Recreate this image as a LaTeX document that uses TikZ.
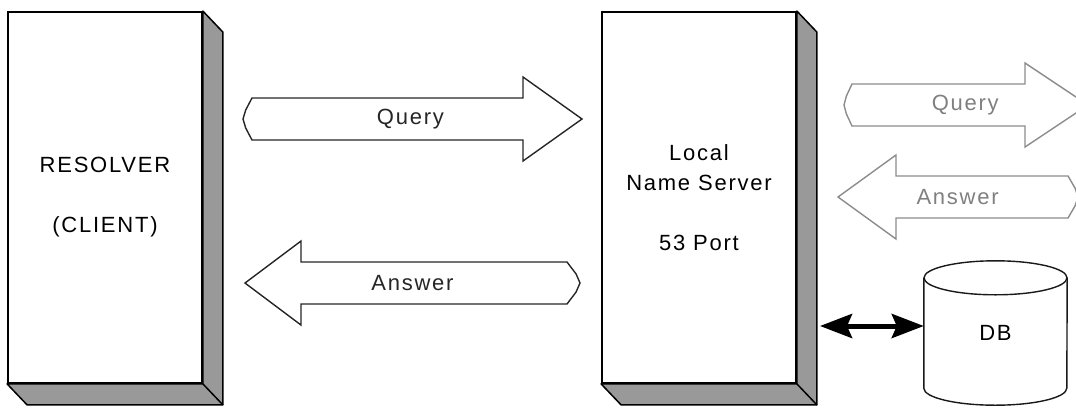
\documentclass[tikz,border=0pt]{standalone}
\usepackage{fontspec}
\setmainfont{Liberation Sans}[LetterSpace=8]
\usepackage{tikz}
\usetikzlibrary{arrows.meta}
% #2 name, #3 tail point x, #4 tail x, #5 head x, #6 tip x, #7 mid y, #8 label
\newcommand{\fatarrow}[8][]{
  \draw[#1] ({#4},{#7-21}) -- ({#5},{#7-21}) -- ({#5},{#7-42}) -- ({#6},{#7})
    -- ({#5},{#7+42}) -- ({#5},{#7+21}) -- ({#4},{#7+21})
    -- ({0.3*#4+0.7*#3},{#7+9}) -- ({#3},{#7}) -- ({0.3*#4+0.7*#3},{#7-9}) -- cycle;
  \node[#1,draw=none,fill=none] (#2) at ({0.52*#4+0.48*#6},{#7}) {#8};
}

\begin{document}
\begin{tikzpicture}[x=1pt,y=-1pt,
    every node/.style={font=\fontsize{22}{30}\selectfont},
    face/.style={draw,line width=1.8pt,fill=white,minimum width=194pt,
      minimum height=371pt,align=center,inner sep=0pt},
    side/.style={draw,line width=1.5pt,fill=black!40,line join=round},
    blockarrow/.style={draw=black!85,line width=1.4pt,fill=white,text=black!85},
    farblock/.style={draw=black!45,line width=1.4pt,fill=white,text=black!50},
    dbline/.style={draw=black!90,line width=1.4pt}]
  \clip (0,0) rectangle (1076,407);

  % the two machines
  \node[face] (resolver) at (105,197.5) {RESOLVER\\[30pt](CLIENT)};
  \node[face] (server) at (699,197.5) {Local\\Name Server\\[30pt]53 Port};
  \foreach \m in {resolver,server}{
    \draw[side] (\m.north east) -- ++(20,21) -- ([shift={(20,21)}]\m.south east)
      -- ([shift={(20,21)}]\m.south west) -- (\m.south west) -- (\m.south east) -- cycle;
    \draw[side,fill=none] (\m.south east) -- ++(20,21);
  }

  % messages
  \fatarrow[blockarrow]{query}{243}{252}{523}{582}{119}{Query}
  \fatarrow[blockarrow]{answer}{580}{567}{301}{245}{283}{Answer}
  \fatarrow[farblock]{fquery}{844}{852}{1025}{1088}{105}{Query}
  \fatarrow[farblock]{fanswer}{1078}{1068}{896}{838}{197}{Answer}

  % database
  \node[minimum width=143pt,minimum height=144pt,inner sep=0pt] (db) at (995.5,333) {DB};
  \draw[dbline] ([yshift=-17pt]db.north west) -- ([yshift=17pt]db.south west)
    arc[start angle=180,end angle=360,x radius=71.5pt,y radius=17pt]
    -- ([yshift=-17pt]db.north east);
  \draw[dbline] ([yshift=-17pt]db.north) ellipse [x radius=71.5pt,y radius=17pt];

  \coordinate (port) at (820,326);
  \draw[{Stealth[length=32pt,width=24pt,inset=5pt]}-{Stealth[length=32pt,width=24pt,inset=5pt]},
    line width=5pt] (port) -- (port -| db.west);
\end{tikzpicture}
\end{document}
